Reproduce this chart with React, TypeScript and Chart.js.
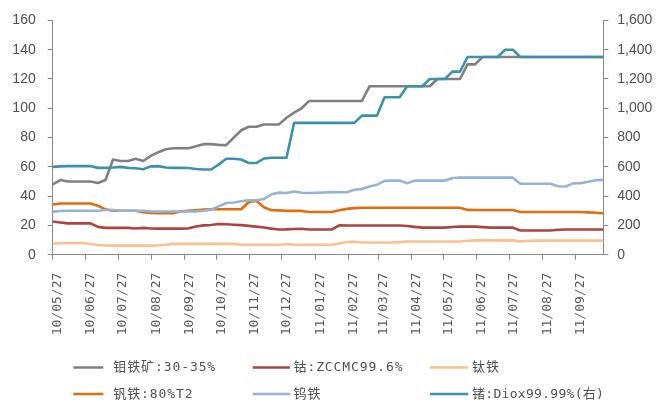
import { useEffect, useRef } from 'react';
import { Chart, registerables } from 'chart.js';

Chart.register(...registerables);

// ---------- data ----------
const START_DATE = '10/05/27';
const END_DATE = '11/10/23';

const monthLabels = [
  '10/05/27', '10/06/27', '10/07/27', '10/08/27', '10/09/27', '10/10/27',
  '10/11/27', '10/12/27', '11/01/27', '11/02/27', '11/03/27', '11/04/27',
  '11/05/27', '11/06/27', '11/07/27', '11/08/27', '11/09/27',
];

const seriesLabels = ['钼铁矿:30-35%', '钴:ZCCMC99.6%', '钛铁', '钒铁:80%T2', '钨铁', '锗:Diox99.99%(右)'];

// weekly observations (left axis unless noted)
const molybdenum = [
  48, 51, 50, 50, 50, 50, 49, 51, 65, 64, 64, 65.5, 64, 67.5, 70, 72, 72.7, 72.7, 72.7, 74,
  75.5, 75.5, 75, 74.8, 80, 85, 87.4, 87.4, 88.9, 88.9, 89, 93.5, 97, 100, 105, 105, 105, 105, 105, 105,
  105, 105, 115, 115, 115, 115, 115, 115, 115, 115, 115, 120, 120, 120, 120, 130, 130, 135, 135, 135,
  135, 135, 135, 135, 135, 135, 135, 135, 135, 135, 135, 135, 135, 135,
];
const cobalt = [
  22.7, 22, 21.4, 21.4, 21.4, 21.4, 19, 18.3, 18.3, 18.3, 18.3, 17.9, 18.3, 17.9, 17.8, 17.8, 17.8, 17.8, 18, 19.3,
  20, 20.3, 21, 20.8, 20.5, 20.2, 19.7, 19.2, 18.6, 17.8, 17.2, 17.3, 17.6, 17.7, 17.2, 17.2, 17.2, 17.2, 20, 19.9,
  19.9, 19.9, 19.9, 19.9, 19.9, 19.9, 19.9, 19.6, 19, 18.5, 18.5, 18.5, 18.5, 18.9, 19.2, 19.2, 19.2, 18.8, 18.5, 18.5,
  18.5, 18.5, 16.5, 16.5, 16.5, 16.5, 16.5, 17, 17.2, 17.2, 17.2, 17.2, 17.2, 17.2,
];
const titanium = [
  7.6, 7.8, 8, 8, 8, 7.3, 6.6, 6.3, 6.2, 6.2, 6.2, 6.2, 6.2, 6.2, 6.4, 6.8, 7.4, 7.4, 7.4, 7.4,
  7.4, 7.4, 7.4, 7.4, 7.2, 6.8, 6.8, 6.8, 6.8, 6.8, 6.8, 7.3, 6.8, 6.8, 6.8, 6.8, 6.8, 6.8, 7.6, 8.7,
  8.9, 8.3, 8.3, 8.3, 8.3, 8.3, 8.6, 9, 9, 9, 9, 9, 9, 9, 9, 9.5, 9.8, 9.8, 9.8, 9.8,
  9.8, 9.8, 9.1, 9.4, 9.6, 9.6, 9.6, 9.6, 9.6, 9.6, 9.6, 9.6, 9.6, 9.6,
];
const vanadium = [
  34.3, 35, 35, 35, 35, 35, 33.4, 31, 30, 30, 30, 30, 29, 28.5, 28.3, 28.3, 28.3, 29.6, 30, 30.4,
  30.9, 31, 31, 31, 31, 31, 36, 36.8, 32.4, 30.4, 30.3, 29.9, 29.9, 29.9, 29.2, 29.2, 29.2, 29.2, 30.3, 31.3,
  31.8, 32.1, 32.1, 32.1, 32.1, 32.1, 32.1, 32.1, 32.1, 32.1, 32.1, 32.1, 32.1, 32.1, 32.1, 30.6, 30.5, 30.5, 30.5, 30.5,
  30.5, 30.5, 29.2, 29.2, 29.2, 29.2, 29.2, 29.2, 29.2, 29.2, 29.2, 28.9, 28.6, 28.3,
];
const tungsten = [
  29.4, 29.8, 30, 30, 30, 30, 30, 30.5, 30.5, 30, 30, 30, 30, 29.6, 29.4, 29.5, 29.5, 29.5, 29.5, 29.5,
  30, 30.8, 33, 35.3, 35.7, 36.5, 37.2, 37.2, 38, 41.3, 42.4, 42.1, 43.1, 42.3, 42.1, 42.3, 42.5, 42.7, 42.6, 42.6,
  44.3, 44.8, 46.5, 47.8, 50.4, 50.6, 50.6, 48.8, 50.6, 50.6, 50.6, 50.6, 50.6, 52.4, 52.6, 52.6, 52.6, 52.6, 52.6, 52.6,
  52.6, 52.6, 48.4, 48.4, 48.4, 48.4, 48.4, 46.7, 46.6, 48.7, 48.8, 49.8, 50.8, 51.1,
];
// right axis
const germanium = [
  600, 603, 605, 605, 605, 605, 593, 593, 595, 600, 593, 590, 584, 603, 605, 595, 593, 593, 592, 585,
  582, 582, 615, 655, 655, 650, 626, 626, 657, 662, 662, 662, 900, 900, 900, 900, 900, 900, 900, 900,
  900, 950, 950, 950, 1075, 1075, 1075, 1150, 1150, 1150, 1200, 1200, 1200, 1250, 1250, 1350, 1350, 1350, 1350, 1350,
  1400, 1400, 1350, 1350, 1350, 1350, 1350, 1350, 1350, 1350, 1350, 1350, 1350, 1350,
];

const leftAxis = { min: 0, max: 160, step: 20 };
const rightAxis = { min: 0, max: 1600, step: 200 };

// ---------- style ----------
const W = 663;
const H = 403;
const PLOT = { left: 52.7, right: 603.3, top: 15.3, bottom: 254.7 };
const AXIS_COLOR = '#8a8a8a';
const TEXT_COLOR = '#505050';
const COLORS = ['#808080', '#AE4441', '#FAC090', '#E46C0A', '#95B3D7', '#3A93AA'];
const LEGEND_COLS = [
  { x0: 73.3, x1: 103.3, tx: 113.3 },
  { x0: 252.7, x1: 290, tx: 293.5 },
  { x0: 430, x1: 468.3, tx: 472 },
];
const LEGEND_ROWS = [367.5, 394];

function toDay(label: string): number {
  const [yy, mm, dd] = label.split('/').map(Number);
  return Date.UTC(2000 + yy, mm - 1, dd) / 86400000;
}

const legendPlugin = {
  id: 'customLegend',
  afterDraw(chart: any) {
    const ctx = chart.ctx as CanvasRenderingContext2D;
    ctx.save();
    chart.data.datasets.forEach((ds: any, i: number) => {
      const col = LEGEND_COLS[i % 3];
      const y = LEGEND_ROWS[Math.floor(i / 3)];
      ctx.strokeStyle = ds.borderColor;
      ctx.lineWidth = 2.5;
      ctx.lineCap = 'butt';
      ctx.beginPath();
      ctx.moveTo(col.x0, y);
      ctx.lineTo(col.x1, y);
      ctx.stroke();
      ctx.fillStyle = TEXT_COLOR;
      ctx.font = '13px "DejaVu Sans Mono", "Noto Sans CJK SC", sans-serif';
      (ctx as any).letterSpacing = i === 5 ? '0.3px' : '0.9px';
      ctx.textAlign = 'left';
      ctx.textBaseline = 'middle';
      ctx.fillText(ds.label, col.tx, y + 0.5);
    });
    ctx.restore();
  },
};

export default function App() {
  const ref = useRef<HTMLCanvasElement | null>(null);

  useEffect(() => {
    if (!ref.current) return;
    const startDay = toDay(START_DATE);
    const span = toDay(END_DATE) - startDay;
    const all = [molybdenum, cobalt, titanium, vanadium, tungsten, germanium];
    const n = molybdenum.length;
    const xs = molybdenum.map((_, i) => (i * span) / (n - 1));

    const datasets = all.map((vals, i) => ({
      label: seriesLabels[i],
      data: vals.map((v, j) => ({ x: xs[j], y: v })),
      borderColor: COLORS[i],
      backgroundColor: COLORS[i],
      borderWidth: 2.6,
      pointRadius: 0,
      tension: 0,
      fill: false,
      borderJoinStyle: 'round' as const,
      borderCapStyle: 'round' as const,
      yAxisID: i === 5 ? 'y1' : 'y',
      order: 10 - i,
    }));

    const tickFont = { family: '"Liberation Sans", Arial, sans-serif', size: 14 };

    const chart = new Chart(ref.current, {
      type: 'line',
      data: { datasets },
      plugins: [legendPlugin],
      options: {
        animation: false,
        responsive: false,
        devicePixelRatio: 1,
        layout: { padding: { top: PLOT.top, left: 0, right: 0, bottom: 0 } },
        plugins: { legend: { display: false }, tooltip: { enabled: false } },
        scales: {
          x: {
            type: 'linear',
            min: 0,
            max: span,
            afterBuildTicks: (scale: any) => {
              scale.ticks = monthLabels.map((l) => ({ value: toDay(l) - startDay }));
            },
            afterFit: (scale: any) => {
              scale.height = H - PLOT.bottom;
            },
            ticks: {
              autoSkip: false,
              minRotation: 90,
              maxRotation: 90,
              padding: 13,
              labelOffset: 5,
              color: '#5a5a5a',
              font: { family: '"DejaVu Sans Mono", monospace', size: 13 },
              callback: (_v: any, idx: number) => monthLabels[idx],
            },
            grid: { drawOnChartArea: false, drawTicks: true, tickLength: 5, color: AXIS_COLOR },
            border: { color: AXIS_COLOR, width: 1 },
          },
          y: {
            position: 'left',
            min: leftAxis.min,
            max: leftAxis.max,
            afterFit: (scale: any) => {
              scale.width = PLOT.left;
            },
            ticks: { stepSize: leftAxis.step, padding: 12, color: TEXT_COLOR, font: tickFont },
            grid: { drawOnChartArea: false, drawTicks: true, tickLength: 5, color: AXIS_COLOR },
            border: { color: AXIS_COLOR, width: 1 },
          },
          y1: {
            position: 'right',
            min: rightAxis.min,
            max: rightAxis.max,
            afterFit: (scale: any) => {
              scale.width = W - PLOT.right;
            },
            ticks: {
              stepSize: rightAxis.step,
              padding: 9,
              color: TEXT_COLOR,
              font: tickFont,
              callback: (v: any) => Number(v).toLocaleString('en-US'),
            },
            grid: { drawOnChartArea: false, drawTicks: true, tickLength: 5, color: AXIS_COLOR },
            border: { color: AXIS_COLOR, width: 1 },
          },
        },
      },
    } as any);

    return () => chart.destroy();
  }, []);

  return (
    <div style={{ position: 'fixed', left: 0, top: 0, width: W, height: H, background: '#fff' }}>
      <canvas ref={ref} width={W} height={H} style={{ width: W, height: H, display: 'block' }} />
    </div>
  );
}
